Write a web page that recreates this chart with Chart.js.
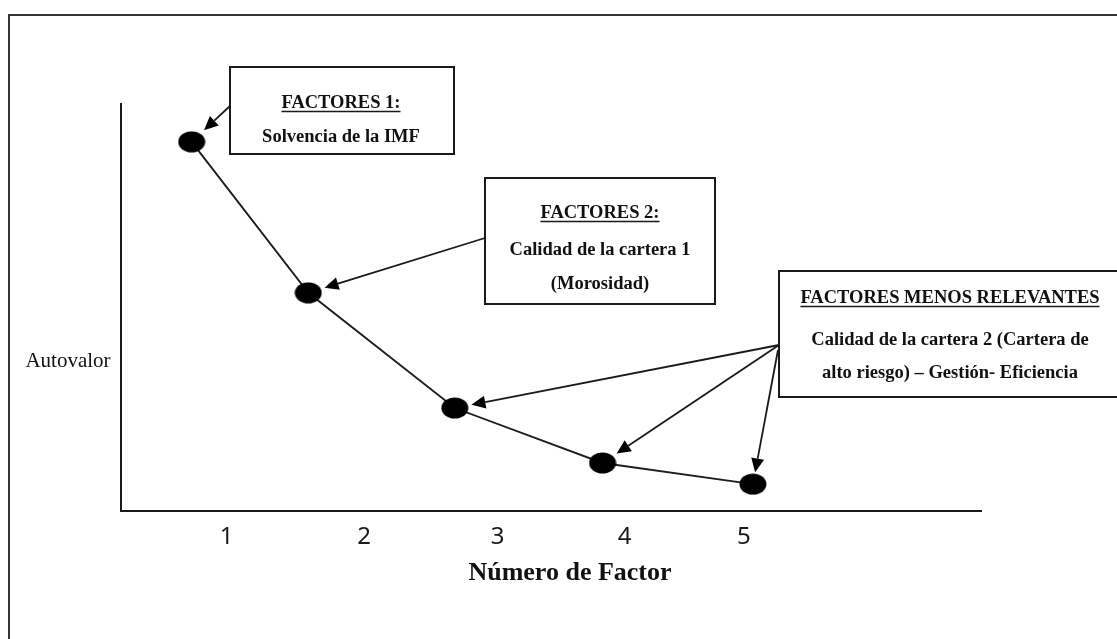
<!DOCTYPE html>
<html><head><meta charset="utf-8">
<script src="https://cdn.jsdelivr.net/npm/chart.js@4.4.0/dist/chart.umd.min.js"></script>
<style>html,body{margin:0;padding:0;background:#fff;}#wrap{width:1117px;height:639px;}</style>
</head><body><div id="wrap"><canvas id="c" width="1117" height="639"></canvas></div>
<script>
// ---- data ----
const factorLabels = ['1', '2', '3', '4', '5'];
const factorTickPos = [0.96, 2.02, 3.05, 4.03, 4.95];
const factorPos = [0.69, 1.59, 2.72, 3.86, 5.02];
const eigenvalues = [9.07, 5.36, 2.53, 1.18, 0.66];
const xTitle = 'Número de Factor';
const yTitle = 'Autovalor';
const boxTexts = [
  ['FACTORES 1:', 'Solvencia de la IMF'],
  ['FACTORES 2:', 'Calidad de la cartera 1', '(Morosidad)'],
  ['FACTORES MENOS RELEVANTES', 'Calidad de la cartera 2 (Cartera de', 'alto riesgo) – Gestión- Eficiencia']
];
const boxTargets = [[0], [1], [2, 3, 4]];

// ---- layout / style ----
const boxLayout = [
  {rect: [230, 67, 454, 154], cx: 341, base: [108, 142], from: [[230, 106]], gap: [17]},
  {rect: [485, 178, 715, 304], cx: 600, base: [218, 255, 289], from: [[485, 238]], gap: [17]},
  {rect: [779, 271, 1140, 397], cx: 950, base: [303, 345, 378], from: [[779, 345], [779, 345], [778, 350]], gap: [17, 17, 12]}
];
const serif = '"Liberation Serif", "Times New Roman", serif';
const ink = '#111';

function ellipseCanvas(w, h) {
  const cv = document.createElement('canvas');
  cv.width = w; cv.height = h;
  const g = cv.getContext('2d');
  g.fillStyle = '#000';
  g.beginPath();
  g.ellipse(w / 2, h / 2, w / 2 - 0.5, h / 2 - 0.5, 0, 0, Math.PI * 2);
  g.fill();
  return cv;
}

function arrow(ctx, x1, y1, x2, y2) {
  const ang = Math.atan2(y2 - y1, x2 - x1);
  const L = 14, W = 6.5;
  const bx = x2 - L * Math.cos(ang), by = y2 - L * Math.sin(ang);
  ctx.beginPath();
  ctx.moveTo(x1, y1); ctx.lineTo(bx, by);
  ctx.stroke();
  ctx.beginPath();
  ctx.moveTo(x2, y2);
  ctx.lineTo(bx + W * Math.sin(ang), by - W * Math.cos(ang));
  ctx.lineTo(bx - W * Math.sin(ang), by + W * Math.cos(ang));
  ctx.closePath();
  ctx.fill();
}

const deco = {
  id: 'deco',
  beforeDraw(chart) {
    const ctx = chart.ctx;
    ctx.save();
    ctx.fillStyle = '#fff';
    ctx.fillRect(0, 0, chart.width, chart.height);
    ctx.strokeStyle = '#333';
    ctx.lineWidth = 2;
    ctx.strokeRect(9, 15, 1200, 700);
    ctx.restore();
  },
  afterDraw(chart) {
    const ctx = chart.ctx;
    const ca = chart.chartArea;
    const meta = chart.getDatasetMeta(0);
    ctx.save();
    ctx.fillStyle = ink;
    ctx.font = '21px ' + serif;
    ctx.textAlign = 'center';
    ctx.textBaseline = 'alphabetic';
    ctx.fillText(yTitle, ca.left - 53, 367);
    ctx.font = 'bold 26px ' + serif;
    ctx.fillText(xTitle, 570, 580);
    boxTexts.forEach((lines, bi) => {
      const L = boxLayout[bi];
      const [x1, y1, x2, y2] = L.rect;
      ctx.strokeStyle = '#1a1a1a';
      ctx.lineWidth = 2;
      ctx.strokeRect(x1, y1, x2 - x1, y2 - y1);
      ctx.fillStyle = ink;
      ctx.font = 'bold 18.5px ' + serif;
      ctx.textAlign = 'center';
      lines.forEach((t, li) => {
        ctx.fillText(t, L.cx, L.base[li]);
        if (li === 0) {
          const w = ctx.measureText(t).width;
          ctx.lineWidth = 1.6;
          ctx.beginPath();
          ctx.moveTo(L.cx - w / 2, L.base[li] + 3.5);
          ctx.lineTo(L.cx + w / 2, L.base[li] + 3.5);
          ctx.stroke();
        }
      });
      ctx.strokeStyle = '#1a1a1a';
      ctx.fillStyle = '#000';
      ctx.lineWidth = 1.8;
      boxTargets[bi].forEach((pi, ai) => {
        const pt = meta.data[pi];
        const [sx, sy] = L.from[ai];
        const dx = sx - pt.x, dy = sy - pt.y;
        const d = Math.hypot(dx, dy);
        const g = L.gap[ai];
        arrow(ctx, sx, sy, pt.x + dx / d * g, pt.y + dy / d * g);
      });
    });
    ctx.restore();
  }
};

new Chart(document.getElementById('c'), {
  type: 'line',
  data: {
    datasets: [{
      data: factorPos.map((x, i) => ({x: x, y: eigenvalues[i]})),
      borderColor: '#1e1e1e',
      borderWidth: 1.9,
      pointStyle: ellipseCanvas(28, 22),
      pointRadius: 12,
      fill: false,
      tension: 0
    }]
  },
  options: {
    responsive: false,
    animation: false,
    devicePixelRatio: 1,
    layout: {padding: {left: 0, top: 104, right: 136, bottom: 0}},
    plugins: {legend: {display: false}, tooltip: {enabled: false}, title: {display: false}},
    scales: {
      x: {
        type: 'linear', min: 0.145, max: 6.78,
        grid: {display: false, drawTicks: false},
        border: {display: true, color: '#1a1a1a', width: 2},
        ticks: {
          autoSkip: false, maxRotation: 0, padding: 12, color: '#1a1a1a',
          font: {family: '"Noto Sans", sans-serif', size: 24},
          callback: (v, i) => factorLabels[i]
        },
        afterBuildTicks: s => { s.ticks = factorTickPos.map(v => ({value: v})); },
        afterFit: s => { s.height = 128; }
      },
      y: {
        type: 'linear', min: 0, max: 10,
        grid: {display: false, drawTicks: false},
        border: {display: true, color: '#1a1a1a', width: 2},
        ticks: {display: false},
        afterFit: s => { s.width = 121; }
      }
    }
  },
  plugins: [deco]
});
</script></body></html>
